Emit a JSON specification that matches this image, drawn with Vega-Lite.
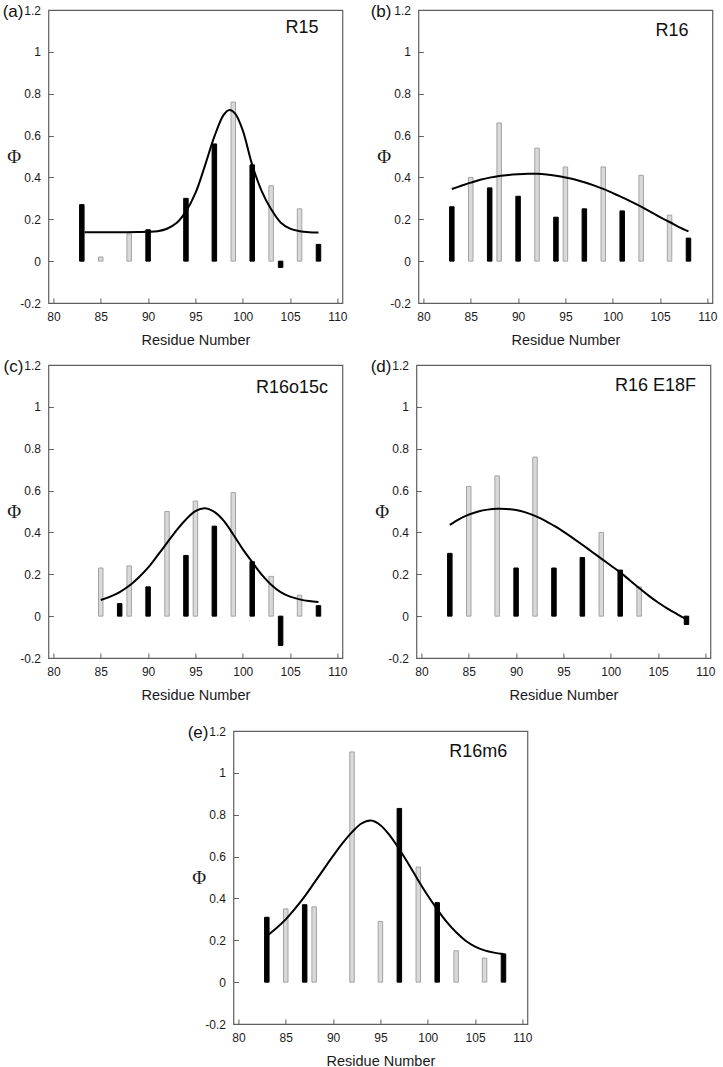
{
  "$schema": "https://vega.github.io/schema/vega-lite/v6.json",
  "padding": {"left": 2, "top": 2, "right": 0, "bottom": 0},
  "background": "white",
  "config": {
    "font": "Liberation Sans",
    "view": {"stroke": "#5f5f5f", "strokeWidth": 1.2},
    "axis": {
      "domain": false, "grid": false,
      "labelFont": "Liberation Sans", "labelFontSize": 12, "labelColor": "#1a1a1a",
      "labelFlush": false, "labelOverlap": false,
      "tickColor": "#5f5f5f", "tickSize": -5, "tickWidth": 1,
      "titleFontWeight": "normal", "titleColor": "#1a1a1a"
    },
    "axisX": {"labelPadding": 13, "titleFont": "Liberation Sans", "titleFontSize": 14.5, "titlePadding": 11},
    "axisY": {"labelPadding": 13, "titleFont": "Liberation Serif", "titleFontSize": 19, "titleAngle": 0, "titleAlign": "right", "titleBaseline": "middle", "titlePadding": -1}
  },
  "datasets": {
    "all": [
      {"panel": "a", "kind": "bar", "type": "black", "residue": 83, "phi": 0.27},
      {"panel": "a", "kind": "bar", "type": "gray", "residue": 85, "phi": 0.02},
      {"panel": "a", "kind": "bar", "type": "gray", "residue": 88, "phi": 0.13},
      {"panel": "a", "kind": "bar", "type": "black", "residue": 90, "phi": 0.15},
      {"panel": "a", "kind": "bar", "type": "black", "residue": 94, "phi": 0.30},
      {"panel": "a", "kind": "bar", "type": "black", "residue": 97, "phi": 0.56},
      {"panel": "a", "kind": "bar", "type": "gray", "residue": 99, "phi": 0.76},
      {"panel": "a", "kind": "bar", "type": "black", "residue": 101, "phi": 0.46},
      {"panel": "a", "kind": "bar", "type": "gray", "residue": 103, "phi": 0.36},
      {"panel": "a", "kind": "bar", "type": "black", "residue": 104, "phi": -0.03},
      {"panel": "a", "kind": "bar", "type": "gray", "residue": 106, "phi": 0.25},
      {"panel": "a", "kind": "bar", "type": "black", "residue": 108, "phi": 0.08},

      {"panel": "b", "kind": "bar", "type": "black", "residue": 83, "phi": 0.26},
      {"panel": "b", "kind": "bar", "type": "gray", "residue": 85, "phi": 0.40},
      {"panel": "b", "kind": "bar", "type": "black", "residue": 87, "phi": 0.35},
      {"panel": "b", "kind": "bar", "type": "gray", "residue": 88, "phi": 0.66},
      {"panel": "b", "kind": "bar", "type": "black", "residue": 90, "phi": 0.31},
      {"panel": "b", "kind": "bar", "type": "gray", "residue": 92, "phi": 0.54},
      {"panel": "b", "kind": "bar", "type": "black", "residue": 94, "phi": 0.21},
      {"panel": "b", "kind": "bar", "type": "gray", "residue": 95, "phi": 0.45},
      {"panel": "b", "kind": "bar", "type": "black", "residue": 97, "phi": 0.25},
      {"panel": "b", "kind": "bar", "type": "gray", "residue": 99, "phi": 0.45},
      {"panel": "b", "kind": "bar", "type": "black", "residue": 101, "phi": 0.24},
      {"panel": "b", "kind": "bar", "type": "gray", "residue": 103, "phi": 0.41},
      {"panel": "b", "kind": "bar", "type": "gray", "residue": 106, "phi": 0.22},
      {"panel": "b", "kind": "bar", "type": "black", "residue": 108, "phi": 0.11},

      {"panel": "c", "kind": "bar", "type": "gray", "residue": 85, "phi": 0.23},
      {"panel": "c", "kind": "bar", "type": "black", "residue": 87, "phi": 0.06},
      {"panel": "c", "kind": "bar", "type": "gray", "residue": 88, "phi": 0.24},
      {"panel": "c", "kind": "bar", "type": "black", "residue": 90, "phi": 0.14},
      {"panel": "c", "kind": "bar", "type": "gray", "residue": 92, "phi": 0.50},
      {"panel": "c", "kind": "bar", "type": "black", "residue": 94, "phi": 0.29},
      {"panel": "c", "kind": "bar", "type": "gray", "residue": 95, "phi": 0.55},
      {"panel": "c", "kind": "bar", "type": "black", "residue": 97, "phi": 0.43},
      {"panel": "c", "kind": "bar", "type": "gray", "residue": 99, "phi": 0.59},
      {"panel": "c", "kind": "bar", "type": "black", "residue": 101, "phi": 0.26},
      {"panel": "c", "kind": "bar", "type": "gray", "residue": 103, "phi": 0.19},
      {"panel": "c", "kind": "bar", "type": "black", "residue": 104, "phi": -0.14},
      {"panel": "c", "kind": "bar", "type": "gray", "residue": 106, "phi": 0.10},
      {"panel": "c", "kind": "bar", "type": "black", "residue": 108, "phi": 0.05},

      {"panel": "d", "kind": "bar", "type": "black", "residue": 83, "phi": 0.30},
      {"panel": "d", "kind": "bar", "type": "gray", "residue": 85, "phi": 0.62},
      {"panel": "d", "kind": "bar", "type": "gray", "residue": 88, "phi": 0.67},
      {"panel": "d", "kind": "bar", "type": "black", "residue": 90, "phi": 0.23},
      {"panel": "d", "kind": "bar", "type": "gray", "residue": 92, "phi": 0.76},
      {"panel": "d", "kind": "bar", "type": "black", "residue": 94, "phi": 0.23},
      {"panel": "d", "kind": "bar", "type": "black", "residue": 97, "phi": 0.28},
      {"panel": "d", "kind": "bar", "type": "gray", "residue": 99, "phi": 0.40},
      {"panel": "d", "kind": "bar", "type": "black", "residue": 101, "phi": 0.22},
      {"panel": "d", "kind": "bar", "type": "gray", "residue": 103, "phi": 0.14},
      {"panel": "d", "kind": "bar", "type": "black", "residue": 108, "phi": -0.04},

      {"panel": "e", "kind": "bar", "type": "black", "residue": 83, "phi": 0.31},
      {"panel": "e", "kind": "bar", "type": "gray", "residue": 85, "phi": 0.35},
      {"panel": "e", "kind": "bar", "type": "black", "residue": 87, "phi": 0.37},
      {"panel": "e", "kind": "bar", "type": "gray", "residue": 88, "phi": 0.36},
      {"panel": "e", "kind": "bar", "type": "gray", "residue": 92, "phi": 1.10},
      {"panel": "e", "kind": "bar", "type": "gray", "residue": 95, "phi": 0.29},
      {"panel": "e", "kind": "bar", "type": "black", "residue": 97, "phi": 0.83},
      {"panel": "e", "kind": "bar", "type": "gray", "residue": 99, "phi": 0.55},
      {"panel": "e", "kind": "bar", "type": "black", "residue": 101, "phi": 0.38},
      {"panel": "e", "kind": "bar", "type": "gray", "residue": 103, "phi": 0.15},
      {"panel": "e", "kind": "bar", "type": "gray", "residue": 106, "phi": 0.115},
      {"panel": "e", "kind": "bar", "type": "black", "residue": 108, "phi": 0.135},

      {"panel": "a", "kind": "fit", "residue": 83.3, "phi": 0.138},
      {"panel": "a", "kind": "fit", "residue": 85, "phi": 0.138},
      {"panel": "a", "kind": "fit", "residue": 87, "phi": 0.138},
      {"panel": "a", "kind": "fit", "residue": 89, "phi": 0.139},
      {"panel": "a", "kind": "fit", "residue": 90, "phi": 0.14},
      {"panel": "a", "kind": "fit", "residue": 91, "phi": 0.143},
      {"panel": "a", "kind": "fit", "residue": 92, "phi": 0.155},
      {"panel": "a", "kind": "fit", "residue": 93, "phi": 0.182},
      {"panel": "a", "kind": "fit", "residue": 94, "phi": 0.238},
      {"panel": "a", "kind": "fit", "residue": 95, "phi": 0.325},
      {"panel": "a", "kind": "fit", "residue": 96, "phi": 0.455},
      {"panel": "a", "kind": "fit", "residue": 97, "phi": 0.595},
      {"panel": "a", "kind": "fit", "residue": 98, "phi": 0.700},
      {"panel": "a", "kind": "fit", "residue": 98.6, "phi": 0.722},
      {"panel": "a", "kind": "fit", "residue": 99.2, "phi": 0.705},
      {"panel": "a", "kind": "fit", "residue": 100, "phi": 0.625},
      {"panel": "a", "kind": "fit", "residue": 101, "phi": 0.46},
      {"panel": "a", "kind": "fit", "residue": 102, "phi": 0.335},
      {"panel": "a", "kind": "fit", "residue": 103, "phi": 0.248},
      {"panel": "a", "kind": "fit", "residue": 104, "phi": 0.185},
      {"panel": "a", "kind": "fit", "residue": 105, "phi": 0.155},
      {"panel": "a", "kind": "fit", "residue": 106, "phi": 0.143},
      {"panel": "a", "kind": "fit", "residue": 107, "phi": 0.138},
      {"panel": "a", "kind": "fit", "residue": 108, "phi": 0.137},

      {"panel": "b", "kind": "fit", "residue": 83, "phi": 0.345},
      {"panel": "b", "kind": "fit", "residue": 84, "phi": 0.36},
      {"panel": "b", "kind": "fit", "residue": 85, "phi": 0.375},
      {"panel": "b", "kind": "fit", "residue": 86, "phi": 0.389},
      {"panel": "b", "kind": "fit", "residue": 87, "phi": 0.399},
      {"panel": "b", "kind": "fit", "residue": 88, "phi": 0.407},
      {"panel": "b", "kind": "fit", "residue": 89, "phi": 0.412},
      {"panel": "b", "kind": "fit", "residue": 90, "phi": 0.415},
      {"panel": "b", "kind": "fit", "residue": 91, "phi": 0.417},
      {"panel": "b", "kind": "fit", "residue": 92, "phi": 0.417},
      {"panel": "b", "kind": "fit", "residue": 93, "phi": 0.414},
      {"panel": "b", "kind": "fit", "residue": 94, "phi": 0.408},
      {"panel": "b", "kind": "fit", "residue": 95, "phi": 0.40},
      {"panel": "b", "kind": "fit", "residue": 96, "phi": 0.39},
      {"panel": "b", "kind": "fit", "residue": 97, "phi": 0.377},
      {"panel": "b", "kind": "fit", "residue": 98, "phi": 0.362},
      {"panel": "b", "kind": "fit", "residue": 99, "phi": 0.345},
      {"panel": "b", "kind": "fit", "residue": 100, "phi": 0.325},
      {"panel": "b", "kind": "fit", "residue": 101, "phi": 0.305},
      {"panel": "b", "kind": "fit", "residue": 102, "phi": 0.283},
      {"panel": "b", "kind": "fit", "residue": 103, "phi": 0.26},
      {"panel": "b", "kind": "fit", "residue": 104, "phi": 0.235},
      {"panel": "b", "kind": "fit", "residue": 105, "phi": 0.21},
      {"panel": "b", "kind": "fit", "residue": 106, "phi": 0.187},
      {"panel": "b", "kind": "fit", "residue": 107, "phi": 0.163},
      {"panel": "b", "kind": "fit", "residue": 108, "phi": 0.142},

      {"panel": "c", "kind": "fit", "residue": 85, "phi": 0.077},
      {"panel": "c", "kind": "fit", "residue": 86, "phi": 0.093},
      {"panel": "c", "kind": "fit", "residue": 87, "phi": 0.115},
      {"panel": "c", "kind": "fit", "residue": 88, "phi": 0.145},
      {"panel": "c", "kind": "fit", "residue": 89, "phi": 0.185},
      {"panel": "c", "kind": "fit", "residue": 90, "phi": 0.232},
      {"panel": "c", "kind": "fit", "residue": 91, "phi": 0.29},
      {"panel": "c", "kind": "fit", "residue": 92, "phi": 0.35},
      {"panel": "c", "kind": "fit", "residue": 93, "phi": 0.41},
      {"panel": "c", "kind": "fit", "residue": 94, "phi": 0.462},
      {"panel": "c", "kind": "fit", "residue": 95, "phi": 0.502},
      {"panel": "c", "kind": "fit", "residue": 96, "phi": 0.515},
      {"panel": "c", "kind": "fit", "residue": 97, "phi": 0.498},
      {"panel": "c", "kind": "fit", "residue": 98, "phi": 0.455},
      {"panel": "c", "kind": "fit", "residue": 99, "phi": 0.39},
      {"panel": "c", "kind": "fit", "residue": 100, "phi": 0.32},
      {"panel": "c", "kind": "fit", "residue": 101, "phi": 0.258},
      {"panel": "c", "kind": "fit", "residue": 102, "phi": 0.198},
      {"panel": "c", "kind": "fit", "residue": 103, "phi": 0.15},
      {"panel": "c", "kind": "fit", "residue": 104, "phi": 0.115},
      {"panel": "c", "kind": "fit", "residue": 105, "phi": 0.093},
      {"panel": "c", "kind": "fit", "residue": 106, "phi": 0.08},
      {"panel": "c", "kind": "fit", "residue": 107, "phi": 0.072},
      {"panel": "c", "kind": "fit", "residue": 108, "phi": 0.068},

      {"panel": "d", "kind": "fit", "residue": 83, "phi": 0.436},
      {"panel": "d", "kind": "fit", "residue": 84, "phi": 0.464},
      {"panel": "d", "kind": "fit", "residue": 85, "phi": 0.485},
      {"panel": "d", "kind": "fit", "residue": 86, "phi": 0.50},
      {"panel": "d", "kind": "fit", "residue": 87, "phi": 0.509},
      {"panel": "d", "kind": "fit", "residue": 88, "phi": 0.513},
      {"panel": "d", "kind": "fit", "residue": 89, "phi": 0.512},
      {"panel": "d", "kind": "fit", "residue": 90, "phi": 0.507},
      {"panel": "d", "kind": "fit", "residue": 91, "phi": 0.496},
      {"panel": "d", "kind": "fit", "residue": 92, "phi": 0.479},
      {"panel": "d", "kind": "fit", "residue": 93, "phi": 0.458},
      {"panel": "d", "kind": "fit", "residue": 94, "phi": 0.432},
      {"panel": "d", "kind": "fit", "residue": 95, "phi": 0.404},
      {"panel": "d", "kind": "fit", "residue": 96, "phi": 0.373},
      {"panel": "d", "kind": "fit", "residue": 97, "phi": 0.341},
      {"panel": "d", "kind": "fit", "residue": 98, "phi": 0.308},
      {"panel": "d", "kind": "fit", "residue": 99, "phi": 0.275},
      {"panel": "d", "kind": "fit", "residue": 100, "phi": 0.242},
      {"panel": "d", "kind": "fit", "residue": 101, "phi": 0.209},
      {"panel": "d", "kind": "fit", "residue": 102, "phi": 0.172},
      {"panel": "d", "kind": "fit", "residue": 103, "phi": 0.134},
      {"panel": "d", "kind": "fit", "residue": 104, "phi": 0.098},
      {"panel": "d", "kind": "fit", "residue": 105, "phi": 0.065},
      {"panel": "d", "kind": "fit", "residue": 106, "phi": 0.036},
      {"panel": "d", "kind": "fit", "residue": 107, "phi": 0.01},
      {"panel": "d", "kind": "fit", "residue": 108, "phi": -0.015},

      {"panel": "e", "kind": "fit", "residue": 83, "phi": 0.221},
      {"panel": "e", "kind": "fit", "residue": 84, "phi": 0.258},
      {"panel": "e", "kind": "fit", "residue": 85, "phi": 0.30},
      {"panel": "e", "kind": "fit", "residue": 86, "phi": 0.352},
      {"panel": "e", "kind": "fit", "residue": 87, "phi": 0.41},
      {"panel": "e", "kind": "fit", "residue": 88, "phi": 0.474},
      {"panel": "e", "kind": "fit", "residue": 89, "phi": 0.539},
      {"panel": "e", "kind": "fit", "residue": 90, "phi": 0.603},
      {"panel": "e", "kind": "fit", "residue": 91, "phi": 0.664},
      {"panel": "e", "kind": "fit", "residue": 92, "phi": 0.717},
      {"panel": "e", "kind": "fit", "residue": 93, "phi": 0.758},
      {"panel": "e", "kind": "fit", "residue": 94, "phi": 0.772},
      {"panel": "e", "kind": "fit", "residue": 95, "phi": 0.75},
      {"panel": "e", "kind": "fit", "residue": 96, "phi": 0.70},
      {"panel": "e", "kind": "fit", "residue": 97, "phi": 0.635},
      {"panel": "e", "kind": "fit", "residue": 98, "phi": 0.562},
      {"panel": "e", "kind": "fit", "residue": 99, "phi": 0.486},
      {"panel": "e", "kind": "fit", "residue": 100, "phi": 0.414},
      {"panel": "e", "kind": "fit", "residue": 101, "phi": 0.348},
      {"panel": "e", "kind": "fit", "residue": 102, "phi": 0.288},
      {"panel": "e", "kind": "fit", "residue": 103, "phi": 0.238},
      {"panel": "e", "kind": "fit", "residue": 104, "phi": 0.198},
      {"panel": "e", "kind": "fit", "residue": 105, "phi": 0.17},
      {"panel": "e", "kind": "fit", "residue": 106, "phi": 0.152},
      {"panel": "e", "kind": "fit", "residue": 107, "phi": 0.141},
      {"panel": "e", "kind": "fit", "residue": 108, "phi": 0.134}
    ]
  },
  "center": true,
  "spacing": 20,
  "vconcat": [
    {
      "spacing": 9,
      "vconcat": [
        {
          "spacing": 21,
          "hconcat": [
            {
              "width": 294, "height": 293,
              "data": {"name": "all"},
              "transform": [{"filter": "datum.panel === 'a'"}],
              "layer": [
                {
                  "transform": [{"filter": "datum.kind === 'bar'"}],
                  "mark": {"type": "bar", "size": 4.5, "strokeWidth": 1},
                  "encoding": {
                    "x": {"field": "residue", "type": "quantitative", "title": "Residue Number", "scale": {"domain": [80, 110], "nice": false, "zero": false}, "axis": {"values": [80, 85, 90, 95, 100, 105, 110]}},
                    "y": {"field": "phi", "type": "quantitative", "title": "Φ", "stack": null, "scale": {"domain": [-0.2, 1.2], "nice": false}, "axis": {"values": [-0.2, 0, 0.2, 0.4, 0.6, 0.8, 1, 1.2], "labelExpr": "'' + datum.value"}},
                    "color": {"field": "type", "type": "nominal", "scale": {"domain": ["black", "gray"], "range": ["#000000", "#d9d9d9"]}, "legend": null},
                    "stroke": {"field": "type", "type": "nominal", "scale": {"domain": ["black", "gray"], "range": ["#000000", "#a3a3a3"]}, "legend": null}
                  }
                },
                {
                  "transform": [{"filter": "datum.kind === 'fit'"}],
                  "mark": {"type": "line", "color": "#000000", "strokeWidth": 2, "interpolate": "catmull-rom"},
                  "encoding": {
                    "x": {"field": "residue", "type": "quantitative", "title": "Residue Number"},
                    "y": {"field": "phi", "type": "quantitative", "title": "Φ"}
                  }
                },
                {
                  "data": {"values": [{}]},
                  "mark": {"type": "text", "text": "R15", "align": "right", "baseline": "middle", "fontSize": 18, "color": "#111111"},
                  "encoding": {"x": {"datum": 108}, "y": {"datum": 1.115}}
                },
                {
                  "data": {"values": [{}]},
                  "mark": {"type": "text", "text": "(a)", "align": "right", "baseline": "middle", "fontSize": 17, "dx": -30, "dy": 2, "color": "#111111"},
                  "encoding": {"x": {"datum": 80}, "y": {"datum": 1.2}}
                }
              ]
            },
            {
              "width": 294, "height": 293,
              "data": {"name": "all"},
              "transform": [{"filter": "datum.panel === 'b'"}],
              "layer": [
                {
                  "transform": [{"filter": "datum.kind === 'bar'"}],
                  "mark": {"type": "bar", "size": 4.5, "strokeWidth": 1},
                  "encoding": {
                    "x": {"field": "residue", "type": "quantitative", "title": "Residue Number", "scale": {"domain": [80, 110], "nice": false, "zero": false}, "axis": {"values": [80, 85, 90, 95, 100, 105, 110]}},
                    "y": {"field": "phi", "type": "quantitative", "title": "Φ", "stack": null, "scale": {"domain": [-0.2, 1.2], "nice": false}, "axis": {"values": [-0.2, 0, 0.2, 0.4, 0.6, 0.8, 1, 1.2], "labelExpr": "'' + datum.value"}},
                    "color": {"field": "type", "type": "nominal", "scale": {"domain": ["black", "gray"], "range": ["#000000", "#d9d9d9"]}, "legend": null},
                    "stroke": {"field": "type", "type": "nominal", "scale": {"domain": ["black", "gray"], "range": ["#000000", "#a3a3a3"]}, "legend": null}
                  }
                },
                {
                  "transform": [{"filter": "datum.kind === 'fit'"}],
                  "mark": {"type": "line", "color": "#000000", "strokeWidth": 2, "interpolate": "catmull-rom"},
                  "encoding": {
                    "x": {"field": "residue", "type": "quantitative", "title": "Residue Number"},
                    "y": {"field": "phi", "type": "quantitative", "title": "Φ"}
                  }
                },
                {
                  "data": {"values": [{}]},
                  "mark": {"type": "text", "text": "R16", "align": "right", "baseline": "middle", "fontSize": 18, "color": "#111111"},
                  "encoding": {"x": {"datum": 108}, "y": {"datum": 1.1}}
                },
                {
                  "data": {"values": [{}]},
                  "mark": {"type": "text", "text": "(b)", "align": "right", "baseline": "middle", "fontSize": 17, "dx": -32, "dy": 2, "color": "#111111"},
                  "encoding": {"x": {"datum": 80}, "y": {"datum": 1.2}}
                }
              ]
            }
          ]
        },
        {
          "spacing": 21,
          "hconcat": [
            {
              "width": 294, "height": 293,
              "data": {"name": "all"},
              "transform": [{"filter": "datum.panel === 'c'"}],
              "layer": [
                {
                  "transform": [{"filter": "datum.kind === 'bar'"}],
                  "mark": {"type": "bar", "size": 4.5, "strokeWidth": 1},
                  "encoding": {
                    "x": {"field": "residue", "type": "quantitative", "title": "Residue Number", "scale": {"domain": [80, 110], "nice": false, "zero": false}, "axis": {"values": [80, 85, 90, 95, 100, 105, 110]}},
                    "y": {"field": "phi", "type": "quantitative", "title": "Φ", "stack": null, "scale": {"domain": [-0.2, 1.2], "nice": false}, "axis": {"values": [-0.2, 0, 0.2, 0.4, 0.6, 0.8, 1, 1.2], "labelExpr": "'' + datum.value"}},
                    "color": {"field": "type", "type": "nominal", "scale": {"domain": ["black", "gray"], "range": ["#000000", "#d9d9d9"]}, "legend": null},
                    "stroke": {"field": "type", "type": "nominal", "scale": {"domain": ["black", "gray"], "range": ["#000000", "#a3a3a3"]}, "legend": null}
                  }
                },
                {
                  "transform": [{"filter": "datum.kind === 'fit'"}],
                  "mark": {"type": "line", "color": "#000000", "strokeWidth": 2, "interpolate": "catmull-rom"},
                  "encoding": {
                    "x": {"field": "residue", "type": "quantitative", "title": "Residue Number"},
                    "y": {"field": "phi", "type": "quantitative", "title": "Φ"}
                  }
                },
                {
                  "data": {"values": [{}]},
                  "mark": {"type": "text", "text": "R16o15c", "align": "right", "baseline": "middle", "fontSize": 18, "color": "#111111"},
                  "encoding": {"x": {"datum": 109}, "y": {"datum": 1.09}}
                },
                {
                  "data": {"values": [{}]},
                  "mark": {"type": "text", "text": "(c)", "align": "right", "baseline": "middle", "fontSize": 17, "dx": -30, "dy": 2, "color": "#111111"},
                  "encoding": {"x": {"datum": 80}, "y": {"datum": 1.2}}
                }
              ]
            },
            {
              "width": 294, "height": 293,
              "data": {"name": "all"},
              "transform": [{"filter": "datum.panel === 'd'"}],
              "layer": [
                {
                  "transform": [{"filter": "datum.kind === 'bar'"}],
                  "mark": {"type": "bar", "size": 4.5, "strokeWidth": 1},
                  "encoding": {
                    "x": {"field": "residue", "type": "quantitative", "title": "Residue Number", "scale": {"domain": [80, 110], "nice": false, "zero": false}, "axis": {"values": [80, 85, 90, 95, 100, 105, 110]}},
                    "y": {"field": "phi", "type": "quantitative", "title": "Φ", "stack": null, "scale": {"domain": [-0.2, 1.2], "nice": false}, "axis": {"values": [-0.2, 0, 0.2, 0.4, 0.6, 0.8, 1, 1.2], "labelExpr": "'' + datum.value"}},
                    "color": {"field": "type", "type": "nominal", "scale": {"domain": ["black", "gray"], "range": ["#000000", "#d9d9d9"]}, "legend": null},
                    "stroke": {"field": "type", "type": "nominal", "scale": {"domain": ["black", "gray"], "range": ["#000000", "#a3a3a3"]}, "legend": null}
                  }
                },
                {
                  "transform": [{"filter": "datum.kind === 'fit'"}],
                  "mark": {"type": "line", "color": "#000000", "strokeWidth": 2, "interpolate": "catmull-rom"},
                  "encoding": {
                    "x": {"field": "residue", "type": "quantitative", "title": "Residue Number"},
                    "y": {"field": "phi", "type": "quantitative", "title": "Φ"}
                  }
                },
                {
                  "data": {"values": [{}]},
                  "mark": {"type": "text", "text": "R16 E18F", "align": "right", "baseline": "middle", "fontSize": 18, "color": "#111111"},
                  "encoding": {"x": {"datum": 109}, "y": {"datum": 1.1}}
                },
                {
                  "data": {"values": [{}]},
                  "mark": {"type": "text", "text": "(d)", "align": "right", "baseline": "middle", "fontSize": 17, "dx": -30, "dy": 2, "color": "#111111"},
                  "encoding": {"x": {"datum": 80}, "y": {"datum": 1.2}}
                }
              ]
            }
          ]
        }
      ]
    },
    {
      "width": 294, "height": 293,
      "data": {"name": "all"},
      "transform": [{"filter": "datum.panel === 'e'"}],
      "layer": [
        {
          "transform": [{"filter": "datum.kind === 'bar'"}],
          "mark": {"type": "bar", "size": 4.5, "strokeWidth": 1},
          "encoding": {
            "x": {"field": "residue", "type": "quantitative", "title": "Residue Number", "scale": {"domain": [80, 110], "nice": false, "zero": false}, "axis": {"values": [80, 85, 90, 95, 100, 105, 110]}},
            "y": {"field": "phi", "type": "quantitative", "title": "Φ", "stack": null, "scale": {"domain": [-0.2, 1.2], "nice": false}, "axis": {"values": [-0.2, 0, 0.2, 0.4, 0.6, 0.8, 1, 1.2], "labelExpr": "'' + datum.value"}},
            "color": {"field": "type", "type": "nominal", "scale": {"domain": ["black", "gray"], "range": ["#000000", "#d9d9d9"]}, "legend": null},
            "stroke": {"field": "type", "type": "nominal", "scale": {"domain": ["black", "gray"], "range": ["#000000", "#a3a3a3"]}, "legend": null}
          }
        },
        {
          "transform": [{"filter": "datum.kind === 'fit'"}],
          "mark": {"type": "line", "color": "#000000", "strokeWidth": 2, "interpolate": "catmull-rom"},
          "encoding": {
            "x": {"field": "residue", "type": "quantitative", "title": "Residue Number"},
            "y": {"field": "phi", "type": "quantitative", "title": "Φ"}
          }
        },
        {
          "data": {"values": [{}]},
          "mark": {"type": "text", "text": "R16m6", "align": "right", "baseline": "middle", "fontSize": 18, "color": "#111111"},
          "encoding": {"x": {"datum": 108.4}, "y": {"datum": 1.1}}
        },
        {
          "data": {"values": [{}]},
          "mark": {"type": "text", "text": "(e)", "align": "right", "baseline": "middle", "fontSize": 17, "dx": -30, "dy": 2, "color": "#111111"},
          "encoding": {"x": {"datum": 80}, "y": {"datum": 1.2}}
        }
      ]
    }
  ]
}
